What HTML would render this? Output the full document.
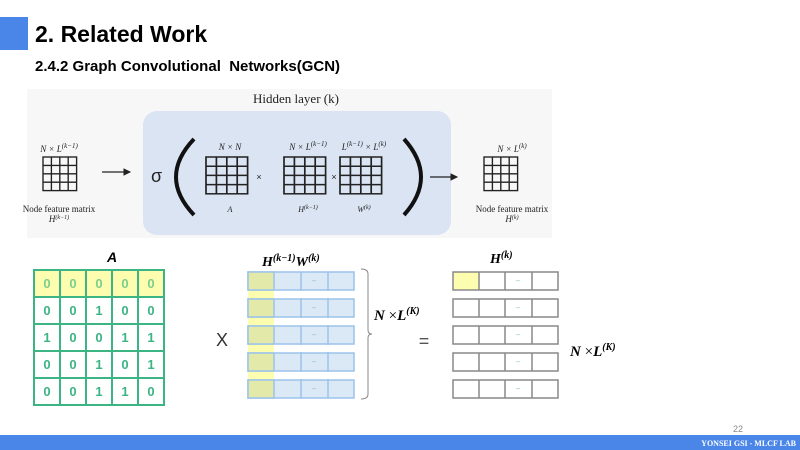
<!DOCTYPE html>
<html><head><meta charset="utf-8"><style>
body{margin:0;width:800px;height:450px;overflow:hidden;background:#fff;font-family:"Liberation Sans",sans-serif;position:relative}
.a{position:absolute}
</style></head><body>
<div class="a" style="left:0;top:17px;width:28px;height:33px;background:#4a86e8"></div>
<div class="a" style="left:35px;top:21px;font-size:23px;font-weight:bold;color:#000">2. Related Work</div>
<div class="a" style="left:35px;top:58px;font-size:15px;font-weight:bold;color:#000">2.4.2 Graph Convolutional&nbsp; Networks(GCN)</div>

<svg class="a" style="left:0;top:0" width="800" height="450" xmlns="http://www.w3.org/2000/svg">
<defs>
<g id="g4" stroke="#222" stroke-width="1.3" fill="none">
<rect x="0" y="0" width="32" height="32"/>
<line x1="8" y1="0" x2="8" y2="32"/><line x1="16" y1="0" x2="16" y2="32"/><line x1="24" y1="0" x2="24" y2="32"/>
<line x1="0" y1="8" x2="32" y2="8"/><line x1="0" y1="16" x2="32" y2="16"/><line x1="0" y1="24" x2="32" y2="24"/>
</g>
</defs>
<rect x="27" y="89" width="525" height="149" fill="#f7f7f7"/>
<rect x="143" y="111" width="308" height="124" rx="14" fill="#dae4f3"/>
<text x="296" y="103" font-family="Liberation Serif" font-size="13" text-anchor="middle" fill="#222">Hidden layer (k)</text>
<g font-family="Liberation Serif" font-size="9" font-style="italic" fill="#222" text-anchor="middle">
<text x="59" y="152">N × L<tspan font-size="7" dy="-4">(k−1)</tspan></text>
<text x="59" y="212" font-style="normal">Node feature matrix</text>
<text x="59" y="222">H<tspan font-size="6" dy="-3">(k−1)</tspan></text>
<text x="230" y="150">N × N</text>
<text x="230" y="212" font-size="8">A</text>
<text x="308" y="150">N × L<tspan font-size="7" dy="-4">(k−1)</tspan></text>
<text x="308" y="212" font-size="8">H<tspan font-size="6" dy="-3">(k−1)</tspan></text>
<text x="364" y="150">L<tspan font-size="7" dy="-4">(k−1)</tspan><tspan dy="4"> × L</tspan><tspan font-size="7" dy="-4">(k)</tspan></text>
<text x="364" y="212" font-size="8">W<tspan font-size="6" dy="-3">(k)</tspan></text>
<text x="512" y="152">N × L<tspan font-size="7" dy="-4">(k)</tspan></text>
<text x="512" y="212" font-style="normal">Node feature matrix</text>
<text x="512" y="222">H<tspan font-size="6" dy="-3">(k)</tspan></text>
</g>
<use href="#g4" transform="translate(43,157) scale(1.05,1.05)"/>
<use href="#g4" transform="translate(206,157) scale(1.3,1.15)"/>
<use href="#g4" transform="translate(284,157) scale(1.3,1.15)"/>
<use href="#g4" transform="translate(340,157) scale(1.3,1.15)"/>
<use href="#g4" transform="translate(484,157) scale(1.05,1.05)"/>
<g fill="#222" stroke="#222">
<line x1="102" y1="172" x2="126" y2="172" stroke-width="1.3"/><path d="M130 172 L124 169 L124 175Z"/>
<line x1="430" y1="177" x2="453" y2="177" stroke-width="1.3"/><path d="M457 177 L451 174 L451 180Z"/>
</g>
<text x="151" y="182" font-family="Liberation Sans" font-size="18" fill="#222">σ</text>
<path d="M194 139 Q176 158 176 177 Q176 196 194 215" fill="none" stroke="#111" stroke-width="4"/>
<path d="M404 139 Q421 158 421 177 Q421 196 404 215" fill="none" stroke="#111" stroke-width="4"/>
<text x="259" y="180" font-size="9" font-family="Liberation Sans" fill="#222" text-anchor="middle">×</text>
<text x="334" y="180" font-size="9" font-family="Liberation Sans" fill="#222" text-anchor="middle">×</text>

<rect x="34" y="270" width="130" height="27" fill="#fdfdb0"/>
<g stroke="#3cb484" stroke-width="2" fill="none">
<rect x="34" y="270" width="130" height="135"/>
<line x1="60" y1="270" x2="60" y2="405"/><line x1="86" y1="270" x2="86" y2="405"/><line x1="112" y1="270" x2="112" y2="405"/><line x1="138" y1="270" x2="138" y2="405"/>
<line x1="34" y1="297" x2="164" y2="297"/><line x1="34" y1="324" x2="164" y2="324"/><line x1="34" y1="351" x2="164" y2="351"/><line x1="34" y1="378" x2="164" y2="378"/>
</g>
<g font-family="Liberation Sans" font-size="13" font-weight="bold" text-anchor="middle">
<g fill="#7ccf8a"><text x="47" y="288">0</text><text x="73" y="288">0</text><text x="99" y="288">0</text><text x="125" y="288">0</text><text x="151" y="288">0</text></g>
<g fill="#3cb484">
<text x="47" y="315">0</text><text x="73" y="315">0</text><text x="99" y="315">1</text><text x="125" y="315">0</text><text x="151" y="315">0</text>
<text x="47" y="342">1</text><text x="73" y="342">0</text><text x="99" y="342">0</text><text x="125" y="342">1</text><text x="151" y="342">1</text>
<text x="47" y="369">0</text><text x="73" y="369">0</text><text x="99" y="369">1</text><text x="125" y="369">0</text><text x="151" y="369">1</text>
<text x="47" y="396">0</text><text x="73" y="396">0</text><text x="99" y="396">1</text><text x="125" y="396">1</text><text x="151" y="396">0</text>
</g></g>
<text x="112" y="262" font-family="Liberation Sans" font-size="14" font-weight="bold" font-style="italic" text-anchor="middle">A</text>
<text x="222" y="346" font-family="Liberation Sans" font-size="18" fill="#333" text-anchor="middle">X</text>

<rect x="248" y="272" width="26" height="126" fill="#fdfdb0"/>
<g stroke="#9cc3ea" stroke-width="1.5">
<g fill="#dbe8f5">
<rect x="248" y="272" width="106" height="18"/><rect x="248" y="299" width="106" height="18"/><rect x="248" y="326" width="106" height="18"/><rect x="248" y="353" width="106" height="18"/><rect x="248" y="380" width="106" height="18"/>
</g>
<g fill="#e3eaa9"><rect x="248" y="272" width="26" height="18"/><rect x="248" y="299" width="26" height="18"/><rect x="248" y="326" width="26" height="18"/><rect x="248" y="353" width="26" height="18"/><rect x="248" y="380" width="26" height="18"/></g>
<g><line x1="301" y1="272" x2="301" y2="398"/><line x1="328" y1="272" x2="328" y2="398"/></g>
</g>
<g fill="#fff"><rect x="275" y="291" width="80" height="7"/><rect x="275" y="318" width="80" height="7"/><rect x="275" y="345" width="80" height="7"/><rect x="275" y="372" width="80" height="7"/></g>
<g fill="#fdfdb0"><rect x="248" y="291" width="26" height="7"/><rect x="248" y="318" width="26" height="7"/><rect x="248" y="345" width="26" height="7"/><rect x="248" y="372" width="26" height="7"/></g>
<g fill="#8cc9b0" font-size="8" font-family="Liberation Sans" text-anchor="middle"><text x="314" y="283">–</text><text x="314" y="310">–</text><text x="314" y="337">–</text><text x="314" y="364">–</text><text x="314" y="391">–</text></g>
<text x="262" y="266" font-family="Liberation Serif" font-size="14" font-weight="bold" font-style="italic">H<tspan font-size="10" dy="-5">(k−1)</tspan><tspan dy="5">W</tspan><tspan font-size="10" dy="-5">(k)</tspan></text>
<path d="M361 269 Q368 269 368 274 L368 330 Q368 334 372 334 Q368 334 368 338 L368 394 Q368 399 361 399" fill="none" stroke="#888" stroke-width="1"/>
<text x="374" y="320" font-family="Liberation Serif" font-size="15" font-weight="bold" font-style="italic">N <tspan font-style="normal" font-weight="normal">×</tspan>L<tspan font-size="10" dy="-6">(K)</tspan></text>
<text x="424" y="347" font-family="Liberation Sans" font-size="18" fill="#555" text-anchor="middle">=</text>

<rect x="453" y="272" width="26" height="18" fill="#fdfdb0"/>
<g stroke="#888" stroke-width="1.5" fill="none">
<rect x="453" y="272" width="105" height="18"/><rect x="453" y="299" width="105" height="18"/><rect x="453" y="326" width="105" height="18"/><rect x="453" y="353" width="105" height="18"/><rect x="453" y="380" width="105" height="18"/>
<line x1="479" y1="272" x2="479" y2="290"/><line x1="479" y1="299" x2="479" y2="317"/><line x1="479" y1="326" x2="479" y2="344"/><line x1="479" y1="353" x2="479" y2="371"/><line x1="479" y1="380" x2="479" y2="398"/>
<line x1="505" y1="272" x2="505" y2="290"/><line x1="505" y1="299" x2="505" y2="317"/><line x1="505" y1="326" x2="505" y2="344"/><line x1="505" y1="353" x2="505" y2="371"/><line x1="505" y1="380" x2="505" y2="398"/>
<line x1="532" y1="272" x2="532" y2="290"/><line x1="532" y1="299" x2="532" y2="317"/><line x1="532" y1="326" x2="532" y2="344"/><line x1="532" y1="353" x2="532" y2="371"/><line x1="532" y1="380" x2="532" y2="398"/>
</g>
<g fill="#8cc9b0" font-size="8" font-family="Liberation Sans" text-anchor="middle"><text x="518" y="283">–</text><text x="518" y="310">–</text><text x="518" y="337">–</text><text x="518" y="364">–</text><text x="518" y="391">–</text></g>
<text x="490" y="263" font-family="Liberation Serif" font-size="14" font-weight="bold" font-style="italic">H<tspan font-size="10" dy="-5">(k)</tspan></text>
<text x="570" y="356" font-family="Liberation Serif" font-size="15" font-weight="bold" font-style="italic">N <tspan font-style="normal" font-weight="normal">×</tspan>L<tspan font-size="10" dy="-6">(K)</tspan></text>

<text x="733" y="432" font-family="Liberation Sans" font-size="9" fill="#888">22</text>
<rect x="0" y="435" width="800" height="15" fill="#4a86e8"/>
<text x="796" y="446" font-family="Liberation Serif" font-size="8" font-weight="bold" fill="#fff" text-anchor="end">YONSEI GSI - MLCF LAB</text>
</svg>
</body></html>
